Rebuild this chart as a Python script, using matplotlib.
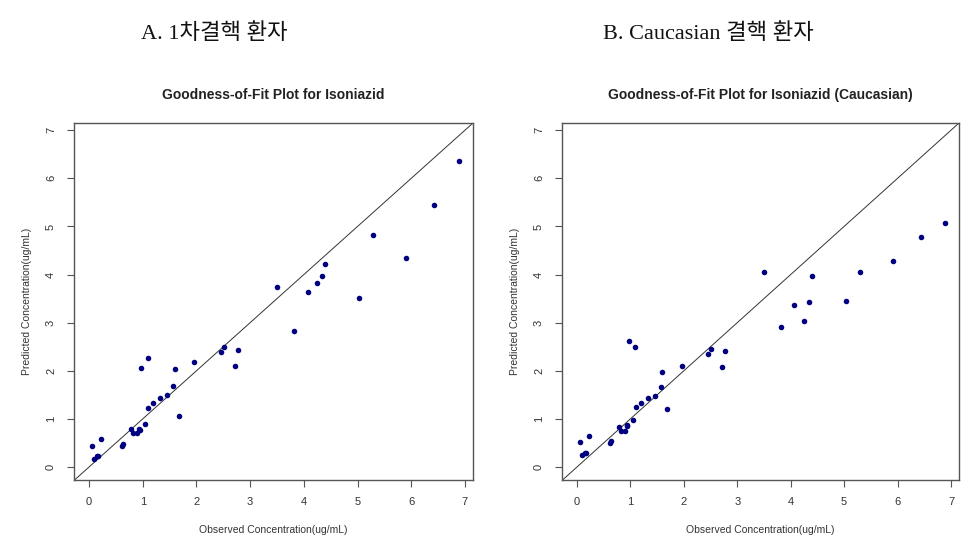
import matplotlib
matplotlib.use('Agg')
import matplotlib.pyplot as plt

# Observed concentrations (shared by both panels)
observed = [6.88, 6.43, 5.29, 5.91, 5.03, 4.39, 4.34, 4.25, 4.07, 3.50,
            3.81, 2.77, 2.51, 2.45, 2.71, 1.96, 1.09, 0.975, 1.60, 1.57,
            1.46, 1.33, 1.20, 1.10, 1.68, 1.04, 0.93, 0.79, 0.82, 0.90,
            0.94, 0.64, 0.61, 0.22, 0.06, 0.10, 0.15, 0.17]

# Predicted, 1st TB patients model
pred_a = [6.35, 5.45, 4.83, 4.35, 3.51, 4.22, 3.96, 3.82, 3.64, 3.74,
          2.82, 2.43, 2.50, 2.40, 2.10, 2.19, 2.26, 2.06, 2.03, 1.68,
          1.50, 1.44, 1.33, 1.22, 1.05, 0.90, 0.80, 0.78, 0.70, 0.70,
          0.76, 0.48, 0.44, 0.58, 0.44, 0.17, 0.22, 0.22]

# Predicted, Caucasian model
pred_b = [5.08, 4.79, 4.06, 4.28, 3.46, 3.96, 3.42, 3.03, 3.375, 4.05,
          2.90, 2.41, 2.46, 2.35, 2.08, 2.10, 2.49, 2.61, 1.97, 1.67,
          1.47, 1.44, 1.33, 1.24, 1.20, 0.97, 0.87, 0.83, 0.75, 0.75,
          0.85, 0.54, 0.50, 0.65, 0.51, 0.24, 0.29, 0.30]

ticks = [0, 1, 2, 3, 4, 5, 6, 7]

panels = [
    ('A. 1차결핵 환자', 'Goodness-of-Fit Plot for Isoniazid', pred_a,
     [74 / 980, 1 - 480 / 539, 399 / 980, 357 / 539], 214),
    ('B. Caucasian 결핵 환자', 'Goodness-of-Fit Plot for Isoniazid (Caucasian)', pred_b,
     [562 / 980, 1 - 480 / 539, 397 / 980, 357 / 539], 708),
]

fig = plt.figure(figsize=(9.8, 5.39), dpi=100)
fig.patch.set_facecolor('white')

sans = ['Liberation Sans', 'DejaVu Sans']
korean = ['Liberation Serif', 'Noto Sans CJK KR', 'DejaVu Sans']

for head, title, pred, rect, head_x in panels:
    ax = fig.add_axes(rect)
    ax.scatter(observed, pred, s=16, color='#000080', zorder=3, linewidths=0)
    ax.axline((0, 0), slope=1, color='#333333', lw=0.7, zorder=2)

    ax.set_xlim(-0.28, 7.15)
    ax.set_ylim(-0.27, 7.15)
    ax.set_xticks(ticks)
    ax.set_yticks(ticks)
    ax.tick_params(direction='out', length=5, width=0.8, color='#555555',
                   labelsize=8, labelcolor='#333333', pad=7)
    ax.tick_params(axis='y', labelrotation=90, pad=8)
    for lab in ax.get_xticklabels() + ax.get_yticklabels():
        lab.set_family(sans)
    for lab in ax.get_yticklabels():
        lab.set_va('center')
    for sp in ax.spines.values():
        sp.set_color('#555555')
        sp.set_linewidth(1.0)

    ax.set_xlabel('Observed Concentration(ug/mL)', fontsize=7.5, family=sans,
                  color='#333333', labelpad=13)
    ax.set_ylabel('Predicted Concentration(ug/mL)', fontsize=7.5, family=sans,
                  color='#333333', labelpad=10)
    ax.set_title(title, fontsize=10, fontweight='bold', family=sans,
                 color='#222222', pad=17)

    fig.text(head_x / 980, 1 - 34 / 539, head, fontsize=16, family=korean,
             ha='center', va='center', color='#111111')

plt.savefig('out.png', dpi=100, facecolor='white')
